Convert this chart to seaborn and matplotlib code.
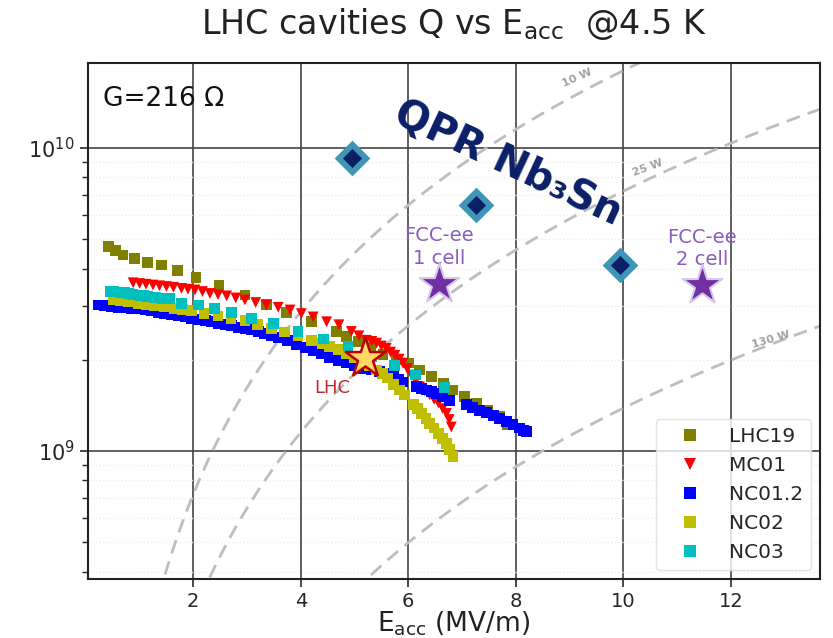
import numpy as np
import pandas as pd
import matplotlib
import matplotlib.pyplot as plt
import seaborn as sns

# ---- data ----
lhc19_e = [0.42, 0.55, 0.69, 0.90, 1.15, 1.41, 1.71, 2.05, 2.48, 2.96, 3.36, 3.73, 4.20, 4.66,
           4.85, 5.07, 5.30, 5.53, 5.78, 6.00, 6.21, 6.43, 6.65, 6.83, 7.05, 7.27, 7.48, 7.70, 7.85]
lhc19_q = [4.72, 4.60, 4.43, 4.33, 4.18, 4.11, 3.94, 3.74, 3.51, 3.27, 3.05, 2.86, 2.67, 2.48,
           2.38, 2.30, 2.20, 2.08, 2.00, 1.95, 1.85, 1.76, 1.67, 1.59, 1.51, 1.44, 1.36, 1.30, 1.22]

mc01_e = [0.88, 1.00, 1.12, 1.25, 1.37, 1.50, 1.63, 1.78, 1.90, 2.03, 2.17, 2.31, 2.46, 2.62,
          2.79, 2.96, 3.16, 3.36, 3.58, 3.80, 4.01, 4.23, 4.48, 4.71, 4.94, 5.08, 5.22, 5.32,
          5.41, 5.50, 5.59, 5.67, 5.75, 5.83, 5.90, 5.98, 6.06, 6.14, 6.21, 6.30, 6.40, 6.48,
          6.56, 6.64, 6.71, 6.76, 6.80]
mc01_q = [3.59, 3.57, 3.55, 3.53, 3.51, 3.49, 3.47, 3.44, 3.42, 3.40, 3.36, 3.31, 3.28, 3.25,
          3.20, 3.15, 3.09, 3.03, 2.98, 2.92, 2.84, 2.77, 2.67, 2.61, 2.48, 2.40, 2.32, 2.30,
          2.27, 2.22, 2.18, 2.12, 2.07, 2.01, 1.95, 1.87, 1.78, 1.70, 1.63, 1.58, 1.53, 1.48,
          1.44, 1.38, 1.33, 1.27, 1.20]

nc012_e = [0.23, 0.35, 0.48, 0.60, 0.72, 0.85, 0.97, 1.10, 1.22, 1.35, 1.47, 1.60, 1.72, 1.85,
           1.97, 2.09, 2.22, 2.34, 2.46, 2.59, 2.71, 2.83, 2.96, 3.08, 3.21, 3.33, 3.46, 3.58,
           3.75, 3.92, 4.08, 4.23, 4.39, 4.54, 4.70, 4.85, 5.00, 5.16, 5.31, 5.47, 5.60, 5.72,
           5.82, 5.90, 6.15, 6.25, 6.34, 6.43, 6.52, 6.64, 6.77, 7.08, 7.20, 7.33, 7.45, 7.58,
           7.70, 7.83, 7.95, 8.07, 8.15, 8.20]
nc012_q = [3.03, 3.02, 3.00, 2.98, 2.97, 2.96, 2.94, 2.92, 2.90, 2.87, 2.84, 2.82, 2.79, 2.77,
           2.74, 2.72, 2.69, 2.67, 2.64, 2.61, 2.59, 2.56, 2.53, 2.51, 2.48, 2.44, 2.41, 2.37,
           2.31, 2.25, 2.20, 2.15, 2.09, 2.03, 1.99, 1.95, 1.91, 1.87, 1.85, 1.83, 1.80, 1.76,
           1.72, 1.69, 1.63, 1.61, 1.59, 1.57, 1.55, 1.51, 1.47, 1.42, 1.39, 1.36, 1.34, 1.31,
           1.28, 1.25, 1.22, 1.19, 1.17, 1.16]

nc02_e = [0.51, 0.65, 0.80, 0.97, 1.12, 1.27, 1.47, 1.65, 1.80, 1.97, 2.20, 2.46, 2.70, 2.96,
          3.20, 3.45, 3.70, 3.95, 4.20, 4.40, 4.54, 4.70, 4.85, 5.00, 5.13, 5.27, 5.41, 5.52,
          5.62, 5.73, 5.84, 5.93, 6.09, 6.17, 6.25, 6.33, 6.40, 6.48, 6.56, 6.64, 6.71, 6.77, 6.83]
nc02_q = [3.15, 3.13, 3.10, 3.07, 3.04, 3.02, 2.99, 2.96, 2.93, 2.90, 2.85, 2.79, 2.74, 2.69,
          2.62, 2.54, 2.47, 2.40, 2.32, 2.26, 2.21, 2.16, 2.10, 2.04, 1.97, 1.91, 1.85, 1.80,
          1.74, 1.66, 1.59, 1.53, 1.42, 1.38, 1.33, 1.28, 1.23, 1.19, 1.14, 1.10, 1.06, 1.01, 0.96]

nc03_e = [0.45, 0.52, 0.59, 0.66, 0.73, 0.80, 0.87, 0.94, 1.01, 1.08, 1.15, 1.22, 1.29, 1.36,
          1.43, 1.50, 1.56, 1.78, 2.09, 2.40, 2.71, 3.08, 3.49, 3.95, 4.42, 4.88, 5.31, 5.75,
          6.14, 6.67]
nc03_q = [3.36, 3.36, 3.35, 3.34, 3.33, 3.31, 3.29, 3.27, 3.26, 3.25, 3.23, 3.22, 3.21, 3.20,
          3.19, 3.18, 3.18, 3.07, 3.03, 2.96, 2.86, 2.74, 2.63, 2.48, 2.34, 2.22, 2.05, 1.91,
          1.78, 1.62]

series_names = ["LHC19", "MC01", "NC01.2", "NC02", "NC03"]
series_colors = ["#808000", "#ff0000", "#0000ff", "#bfbf00", "#00bfbf"]
series_markers = ["s", "v", "s", "s", "s"]

# reference points
lhc_point = (5.19, 2.03e9)
qpr_e = [4.95, 7.26, 9.93]
qpr_q = [9.27e9, 6.49e9, 4.11e9]
fcc_e = [6.57, 11.47]
fcc_q = [3.57e9, 3.53e9]
fcc_labels = ["FCC-ee\n1 cell", "FCC-ee\n2 cell"]

# iso-power lines  Q = K * E^2 / P
power_levels = [10, 25, 130]
power_label_pos = [(9.15, 1.70e10), (10.45, 8.6e9), (12.75, 2.33e9)]
power_label_rot = [24, 20, 16]
K_POWER = 1.8e9

# ---- build frame ----
frames = []
for name, e, q in zip(series_names,
                      [lhc19_e, mc01_e, nc012_e, nc02_e, nc03_e],
                      [lhc19_q, mc01_q, nc012_q, nc02_q, nc03_q]):
    frames.append(pd.DataFrame({"E": e, "Q": np.array(q) * 1e9, "cavity": name}))
df = pd.concat(frames, ignore_index=True)

sns.set_style("white")
plt.rcParams["font.family"] = ["DejaVu Sans"]

fig = plt.figure(figsize=(8.33, 6.38), dpi=100)
ax = fig.add_axes([0.1056, 0.0925, 0.8788, 0.8088])
ax.set_yscale("log")
ax.set_xlim(0.04, 13.66)
ax.set_ylim(3.78e8, 1.908e10)

# grid
ax.grid(True, which="major", color="#444444", lw=1.2)
ax.grid(True, which="minor", axis="y", color="#ececec", lw=1.0, ls=":")
ax.set_axisbelow(True)

# iso-power dashed curves
e_line = np.linspace(0.5, 14, 200)
for p in power_levels:
    sns.lineplot(x=e_line, y=K_POWER * e_line ** 2 / p, ax=ax, color="#bdbdbd",
                 lw=2, linestyle=(0, (5, 3)), zorder=1)
for p, (xp, yp), rot in zip(power_levels, power_label_pos, power_label_rot):
    ax.text(xp, yp, f"{p} W", color="#a0a0a0", fontsize=8, rotation=rot,
            ha="center", va="center", fontweight="bold")

sns.scatterplot(data=df, x="E", y="Q", hue="cavity", style="cavity",
                palette=dict(zip(series_names, series_colors)),
                markers=dict(zip(series_names, series_markers)),
                s=60, linewidth=0, ax=ax, zorder=3)

# LHC star
ax.scatter([lhc_point[0]], [lhc_point[1]], marker="*", s=900, facecolor="#ffd966",
           edgecolor="#c00000", linewidth=1.8, zorder=5)
ax.text(4.58, 1.61e9, "LHC", color="#c0282d", fontsize=13, ha="center", va="center")

# QPR Nb3Sn diamonds
ax.scatter(qpr_e, qpr_q, marker="D", s=330, color="#3f95b5", linewidth=0, zorder=5)
ax.scatter(qpr_e, qpr_q, marker="D", s=95, color="#0b1f66", linewidth=0, zorder=6)
ax.text(7.85, 8.9e9, "QPR Nb₃Sn", color="#0b1f66", fontsize=29, fontweight="bold",
        rotation=-25, ha="center", va="center", rotation_mode="anchor")

# FCC-ee stars
ax.scatter(fcc_e, fcc_q, marker="*", s=900, color="#7030a0", edgecolor="#d8c4ee",
           linewidth=1.5, zorder=5)
for xe, yq, lab in zip(fcc_e, fcc_q, fcc_labels):
    ax.text(xe, yq * 1.32, lab, color="#8a5cc0", fontsize=14, ha="center", va="center",
            linespacing=1.25)

ax.text(0.02, 0.955, "G=216 Ω", transform=ax.transAxes, fontsize=19, ha="left", va="top",
        color="#111111")

# axes styling
for sp in ax.spines.values():
    sp.set_color("#222222")
    sp.set_linewidth(1.5)
ax.set_xticks([2, 4, 6, 8, 10, 12])
ax.tick_params(axis="both", which="major", labelsize=14, length=6, width=1.2, direction="out",
               left=True, bottom=True)
ax.tick_params(axis="y", which="major", labelsize=15)
ax.tick_params(axis="y", which="minor", length=4, width=1, left=True)
ax.set_xlabel("")
ax.set_ylabel("")

leg = ax.legend(loc="lower right", fontsize=14.5, frameon=True, framealpha=0.8,
                edgecolor="#dddddd", markerscale=1.2, handletextpad=0.6, labelspacing=0.5,
                borderaxespad=0.45, handlelength=2.6)
leg.set_title(None)

fig.text(0.545, 0.962, "LHC cavities Q vs E$_{\\mathregular{acc}}$  @4.5 K", fontsize=24,
         ha="center", va="center", color="#222222")
fig.text(0.545, 0.022, "E$_{\\mathregular{acc}}$ (MV/m)", fontsize=19, ha="center", va="center",
         color="#222222")

plt.savefig("out.png", dpi=100)
plt.close()
